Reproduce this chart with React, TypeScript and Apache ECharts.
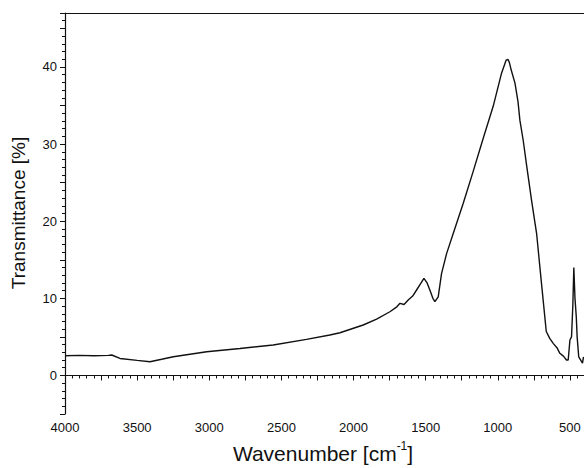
import React, { useEffect, useRef } from "react";
import * as echarts from "echarts";

const wavenumbers = [
  4000, 3900, 3800, 3700, 3676, 3619, 3500, 3411, 3330, 3249, 3018, 2787, 2557, 2326, 2164, 2094,
  1933, 1840, 1748, 1700, 1678, 1650, 1621, 1590, 1563, 1535, 1512, 1490, 1471, 1450, 1436, 1413,
  1390, 1355, 1309, 1240, 1170, 1101, 1032, 974, 942, 930, 920, 907, 881, 860, 847, 824, 800, 766,
  731, 697, 664, 640, 616, 590, 570, 545, 524, 512, 500, 489, 480, 473, 465, 456, 450, 439, 413, 406,
];
const transmittance = [
  2.55, 2.6, 2.55, 2.6, 2.65, 2.2, 1.95, 1.78, 2.1, 2.43, 3.07, 3.5, 3.94, 4.68, 5.24, 5.54,
  6.54, 7.3, 8.26, 8.9, 9.35, 9.2, 9.78, 10.3, 11.08, 11.9, 12.6, 12.0, 11.08, 10.0, 9.56, 10.2,
  13.2, 15.8, 18.4, 22.3, 26.5, 30.75, 34.9, 39.2, 40.9, 41.0, 40.6, 39.6, 37.9, 35.5, 33.1, 30.5, 27.2, 22.7,
  18.4, 11.9, 5.7, 4.8, 4.16, 3.6, 2.87, 2.5, 2.0, 2.0, 4.6, 5.0, 9.0, 14.0, 10.0, 7.6, 5.0, 2.4, 1.6, 2.4,
];
const xLabelStep = 500;
const yLabelStep = 10;

const FONT = "'Liberation Sans', Arial, sans-serif";

export default function App() {
  const ref = useRef<HTMLDivElement>(null);
  useEffect(() => {
    if (!ref.current) return;
    const chart = echarts.init(ref.current, undefined, { renderer: "svg" });
    const axisLine = { show: true, lineStyle: { color: "#111", width: 1.2 } };
    chart.setOption({
      animation: false,
      backgroundColor: "#fff",
      grid: { left: 65, top: 13, width: 541, height: 401, containLabel: false, outerBoundsMode: "none" },
      xAxis: [
        {
          type: "value",
          inverse: true,
          min: 250,
          max: 4000,
          interval: 250,
          position: "bottom",
          axisLine,
          axisTick: { show: true, inside: false, length: 5, lineStyle: { color: "#111" } },
          minorTick: { show: true, splitNumber: 5, length: 3, lineStyle: { color: "#111" } },
          splitLine: { show: false },
          axisLabel: {
            margin: 7,
            fontSize: 13,
            fontFamily: FONT,
            color: "#111",
            formatter: (v: number) => (v % xLabelStep === 0 ? String(v) : ""),
          },
        },
        {
          type: "value",
          inverse: true,
          min: 250,
          max: 4000,
          position: "top",
          axisLine,
          axisTick: { show: false },
          axisLabel: { show: false },
          splitLine: { show: false },
        },
      ],
      yAxis: {
        type: "value",
        min: -5,
        max: 47,
        interval: 5,
        axisLine,
        axisTick: { show: true, inside: false, length: 5, lineStyle: { color: "#111" } },
        minorTick: { show: true, splitNumber: 5, length: 3, lineStyle: { color: "#111" } },
        splitLine: { show: false },
        axisLabel: {
          margin: 8,
          fontSize: 13,
          fontFamily: FONT,
          color: "#111",
          formatter: (v: number) => (v % yLabelStep === 0 ? String(v) : ""),
        },
      },
      series: [
        {
          type: "line",
          xAxisIndex: 0,
          data: wavenumbers.map((w, i) => [w, transmittance[i]]),
          showSymbol: false,
          lineStyle: { color: "#111", width: 1.4 },
          clip: true,
        },
      ],
      graphic: [
        {
          type: "text",
          x: 323,
          y: 452,
          style: {
            text: "{a|Wavenumber [cm}{s|-1}{a|]}",
            align: "center",
            verticalAlign: "middle",
            rich: {
              a: { fontSize: 21, fontFamily: FONT, fill: "#111", verticalAlign: "bottom", lineHeight: 24 },
              s: { fontSize: 12, fontFamily: FONT, fill: "#111", verticalAlign: "top", lineHeight: 14 },
            },
          },
        },
        {
          type: "text",
          x: 18,
          y: 213,
          rotation: Math.PI / 2,
          style: {
            text: "Transmittance [%]",
            fontSize: 19,
            fontFamily: FONT,
            fill: "#111",
            align: "center",
            verticalAlign: "middle",
          },
        },
      ],
    });
    return () => chart.dispose();
  }, []);
  return <div ref={ref} style={{ width: 584, height: 468, position: "absolute", left: 0, top: 0 }} />;
}
